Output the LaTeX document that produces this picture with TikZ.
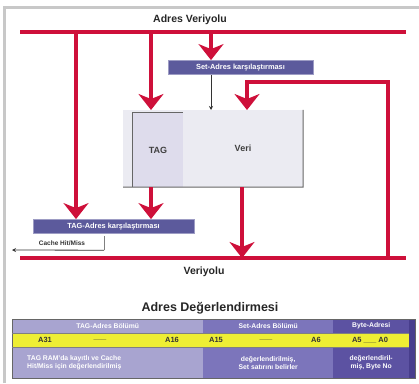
\documentclass[tikz,border=0pt]{standalone}
\usepackage{fontspec}
\setmainfont{Liberation Sans}
\usetikzlibrary{arrows.meta}
\definecolor{busred}{RGB}{206,16,58}
\definecolor{slatebox}{RGB}{92,90,156}
\definecolor{framegray}{RGB}{200,200,200}
\definecolor{colA}{RGB}{168,164,208}
\definecolor{colB}{RGB}{124,117,187}
\definecolor{colC}{RGB}{92,82,162}
\definecolor{colD}{RGB}{72,62,140}
\definecolor{yel}{RGB}{238,238,52}
\definecolor{cellgray}{RGB}{235,235,242}
\definecolor{taggray}{RGB}{222,220,236}
\tikzset{
  bus/.style={draw=busred,line width=4.5pt},
  redarrow/.style={draw=busred,line width=4.5pt,-{Stealth[width=25pt,length=16pt,inset=5pt]}},
  labelbox/.style={fill=slatebox,draw=slatebox!60!white,line width=0.8pt,text=white,font=\bfseries\fontsize{7.4}{8}\selectfont,inner sep=0pt,minimum height=14pt},
  title/.style={font=\bfseries\fontsize{10.5}{12}\selectfont,text=black!85},
  cell/.style={draw=none,inner sep=0pt,anchor=north west},
  celltext/.style={text=white,font=\bfseries\fontsize{6.8}{8}\selectfont,inner sep=0pt},
  yeltext/.style={text=black!80,font=\bfseries\fontsize{7.5}{8}\selectfont,inner sep=0pt},
  thinarrow/.style={draw=black!80,line width=0.8pt,-{Stealth[length=4pt,width=4pt]}}
}
\begin{document}
\begin{tikzpicture}[x=1pt,y=-1pt]
\useasboundingbox (0,0) rectangle (419,383);
% frame
\draw[framegray,line width=3pt] (4,383) -- (4,7) -- (419,7);
% titles
\node[title] (abus) at (190,20) {Adres Veriyolu};
\node[title] (dbus) at (204,272) {Veriyolu};
% buses
\coordinate (ab1) at (20,32); \coordinate (ab2) at (406,32);
\coordinate (db1) at (20,258); \coordinate (db2) at (406,258);
\draw[bus] (ab1) -- (ab2);
\draw[bus] (db1) -- (db2);
% cache block
\fill[cellgray] (123,110) rectangle (303,187);
\node[fill=taggray,minimum width=50pt,minimum height=74pt,inner sep=0pt,font=\bfseries\fontsize{9}{10}\selectfont,text=black!75] (tag) at (158,150) {TAG};
\node[minimum width=120pt,minimum height=77pt,inner sep=0pt,font=\bfseries\fontsize{9}{10}\selectfont,text=black!75] (veri) at (243,148.5) {Veri};
\draw[black!60,line width=1pt] (tag.south west) -- (tag.north west) -- (tag.north east);
\draw[black!60,line width=1pt] (123,187) -- (veri.south east) -- (veri.north east);
% label boxes
\node[labelbox,minimum width=145pt] (setcmp) at (240.5,67.5) {Set-Adres karşılaştırması};
\node[labelbox,minimum width=161pt] (tagcmp) at (113.5,226.5) {TAG-Adres karşılaştırması};
\node[inner sep=0pt,minimum width=84pt,minimum height=14pt,font=\bfseries\fontsize{6.5}{7}\selectfont,text=black!80] (hit) at (62,243) {Cache Hit/Miss};
\coordinate (hitend) at (12,250);
\draw[black!50,line width=1pt] (hit.north east) -- (hit.south east);
\draw[thinarrow] (hit.south east) -- (hitend);
% red connectors
\coordinate (setin) at (211,32);
\draw[redarrow] (76,32) -- (tagcmp.north -| 76,0);
\draw[redarrow] (151,32) -- (151,110);
\draw[redarrow] (setin) -- (setcmp.north -| setin);
\draw[thinarrow] (setcmp.south -| setin) -- (211,110);
\draw[busred,line width=4.5pt] (388,258) -- (388,82) -- (245,82);
\draw[redarrow] (247,80) -- (247,110);
\draw[redarrow] (tag.south -| 151,0) -- (tagcmp.north -| 151,0);
\draw[redarrow] (veri.south -| 242,0) -- (242,258);
% evaluation table
\node[font=\bfseries\fontsize{12.5}{14}\selectfont,text=black!85] (evtitle) at (210,308) {Adres Değerlendirmesi};
\fill[colD] (12,319) rectangle (415,378);
\node[cell,fill=colA,minimum width=191pt,minimum height=14pt] (h1) at (12,319) {};
\node[cell,fill=colB,minimum width=130pt,minimum height=14pt] (h2) at (203,319) {};
\node[cell,fill=colC,minimum width=76pt,minimum height=14pt] (h3) at (333,319) {};
\node[cell,fill=yel,minimum width=397pt,minimum height=14pt] (yrow) at (12,333) {};
\node[cell,fill=colA,minimum width=191pt,minimum height=31pt] (b1) at (12,347) {};
\node[cell,fill=colB,minimum width=130pt,minimum height=31pt] (b2) at (203,347) {};
\node[cell,fill=colC,minimum width=76pt,minimum height=31pt] (b3) at (333,347) {};
\draw[black!60,line width=0.8pt] (12,319) rectangle (415,378);
\draw[black!50,line width=0.6pt] (12,333) -- (409,333) (12,347) -- (409,347);
\node[celltext] (t1) at (h1.center) {TAG-Adres Bölümü};
\node[celltext] (t2) at (h2.center) {Set-Adres Bölümü};
\node[celltext] (t3) at (h3.center) {Byte-Adresi};
\node[yeltext] (a31) at (45,340) {A31};
\node[yeltext] (d1) at (100,340) {\_\_\_};
\node[yeltext] (a16) at (172,340) {A16};
\node[yeltext] (a15) at (216,340) {A15};
\node[yeltext] (d2) at (266,340) {\_\_\_};
\node[yeltext] (a6) at (316,340) {A6};
\node[yeltext] (a5) at (370,340) {A5 \_\_\_ A0};
\node[celltext,align=left,anchor=west] (c1) at (27,362.5) {TAG RAM'da kayıtlı ve Cache\\Hit/Miss için değerlendirilmiş};
\node[celltext,align=center] (c2) at (b2.center) {değerlendirilmiş,\\Set satırını belirler};
\node[celltext,align=center] (c3) at (b3.center) {değerlendiril-\\miş, Byte No};
\end{tikzpicture}
\end{document}
